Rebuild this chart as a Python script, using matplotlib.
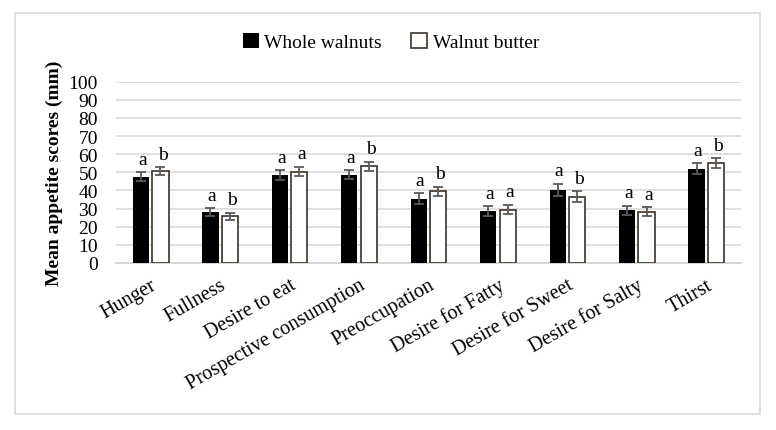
import numpy as np
import matplotlib.pyplot as plt

categories = ["Hunger", "Fullness", "Desire to eat", "Prospective consumption",
              "Preoccupation", "Desire for Fatty", "Desire for Sweet",
              "Desire for Salty", "Thirst"]
whole = [47.6, 27.9, 48.4, 48.7, 35.5, 28.5, 40.4, 29.1, 52.0]
whole_err = [2.5, 2.2, 2.7, 2.5, 3.0, 2.8, 3.4, 2.6, 3.0]
butter = [50.6, 25.7, 50.4, 53.3, 39.5, 29.4, 36.6, 28.3, 55.0]
butter_err = [2.3, 2.0, 2.6, 2.4, 2.6, 2.6, 3.0, 2.4, 2.7]
whole_letters = ["a", "a", "a", "a", "a", "a", "a", "a", "a"]
butter_letters = ["b", "b", "a", "b", "b", "a", "b", "a", "b"]

plt.rcParams['font.family'] = ['Liberation Serif', 'DejaVu Serif']

fig = plt.figure(figsize=(7.76, 4.31), dpi=100)
ax = fig.add_axes([116/776, 1 - 264/431, (741 - 116)/776, (264 - 82.7)/431])

x = np.arange(len(categories))
w = 0.235
off = 0.14
ax.bar(x - off, whole, w, color='black', label='Whole walnuts', zorder=3)
ax.bar(x + off, butter, w, color='white', edgecolor='#3d3222', linewidth=1.2,
       label='Walnut butter', zorder=3)
ax.errorbar(x - off, whole, yerr=whole_err, fmt='none', ecolor='#5a5a5a',
            elinewidth=1.3, capsize=3.5, capthick=1.3, zorder=4)
ax.errorbar(x + off, butter, yerr=butter_err, fmt='none', ecolor='#5a5a5a',
            elinewidth=1.3, capsize=3.5, capthick=1.3, zorder=4)

for i in range(len(categories)):
    ax.text(x[i] - off + 0.02, whole[i] + whole_err[i] + 2.5, whole_letters[i],
            ha='center', va='bottom', fontsize=14)
    ax.text(x[i] + off + 0.03, butter[i] + butter_err[i] + 2.5, butter_letters[i],
            ha='center', va='bottom', fontsize=14)

ax.set_xlim(-0.5, len(categories) - 0.5)
ax.set_ylim(0, 100)
ax.set_yticks(range(0, 101, 10))
ax.yaxis.grid(True, color='#d9d9d9', linewidth=1.2, zorder=0)
ax.set_axisbelow(True)
for s in ['top', 'right', 'left']:
    ax.spines[s].set_visible(False)
ax.spines['bottom'].set_color('#d0d0d0')
ax.spines['bottom'].set_linewidth(1.2)
ax.tick_params(axis='both', length=0, labelsize=14)
ax.tick_params(axis='y', pad=13)
ax.set_xticks(x)
ax.set_xticklabels(categories, rotation=30, ha='right', rotation_mode='anchor',
                   fontsize=14.5)
ax.tick_params(axis='x', pad=9)
ax.set_ylabel('Mean appetite scores (mm)', fontsize=14, fontweight='bold', labelpad=4)

fig.legend(loc='center', bbox_to_anchor=(391/776, 1 - 43/431), ncol=2, frameon=False,
           fontsize=14, handlelength=0.8, handleheight=0.8, handletextpad=0.3,
           columnspacing=1.5)

border = plt.Rectangle((15/776, 1 - 415/431), (760 - 15)/776, (415 - 14)/431,
                       transform=fig.transFigure, fill=False, edgecolor='#d9d9d9',
                       linewidth=1.2)
fig.patches.append(border)

fig.savefig('out.png', dpi=100)
